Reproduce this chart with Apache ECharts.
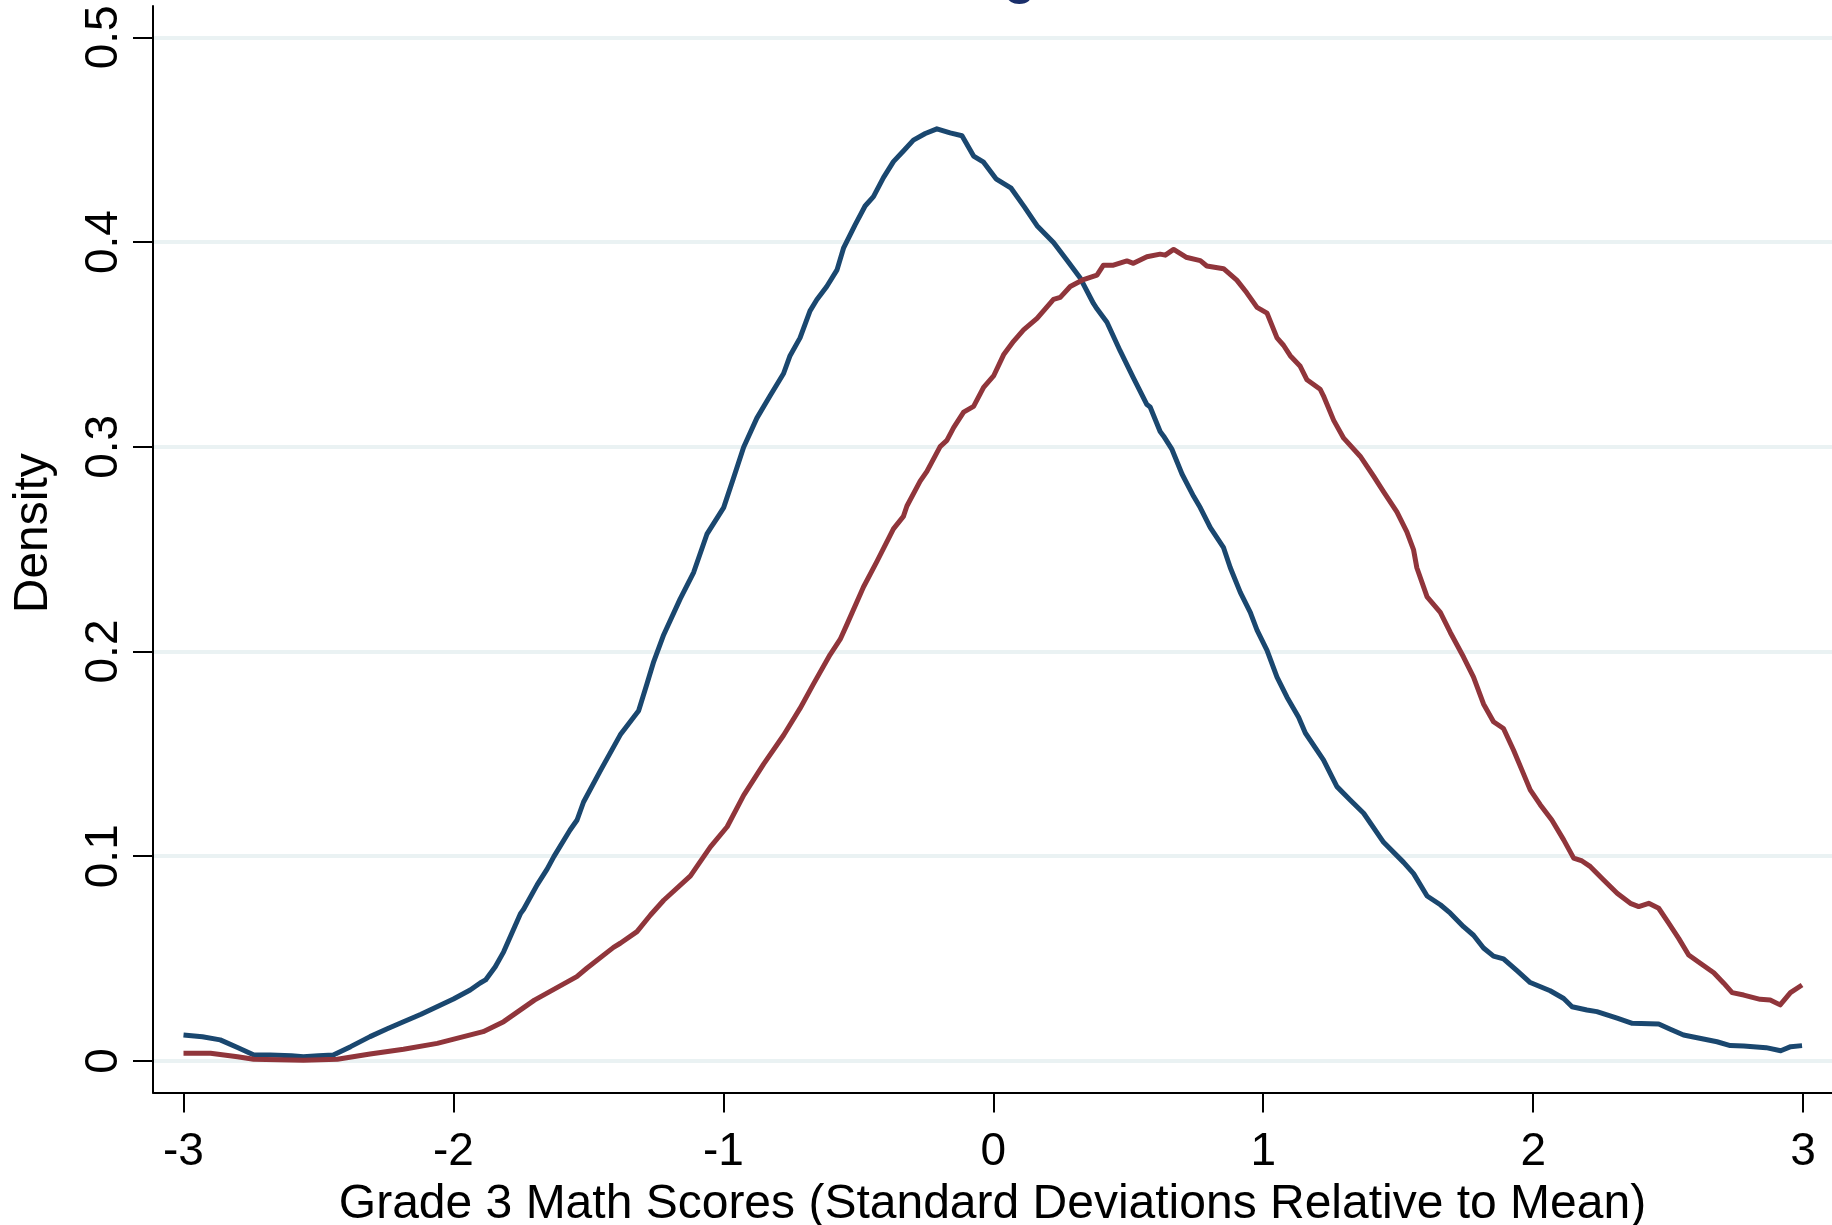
<!DOCTYPE html>
<html>
<head>
<meta charset="utf-8">
<script src="https://cdn.jsdelivr.net/npm/echarts@6/dist/echarts.min.js"></script>
<style>
html,body{margin:0;padding:0;background:#fff;}
#chart{width:1832px;height:1225px;}
</style>
</head>
<body>
<div id="chart"></div>
<script>
// Tick values
const xTicks = [-3, -2, -1, 0, 1, 2, 3];
const yTicks = [0, 0.1, 0.2, 0.3, 0.4, 0.5];

// Blue curve (first group)
const blueX = [-3.00,-2.93,-2.864,-2.80,-2.739,-2.679,-2.60,-2.556,-2.50,-2.445,-2.381,-2.309,-2.245,-2.185,-2.12,-2.061,-2.00,-1.938,-1.901,-1.881,-1.845,-1.814,-1.751,-1.740,-1.690,-1.653,-1.628,-1.568,-1.542,-1.518,-1.456,-1.382,-1.314,-1.283,-1.258,-1.221,-1.160,-1.110,-1.061,-0.999,-0.963,-0.925,-0.876,-0.827,-0.777,-0.753,-0.716,-0.679,-0.654,-0.617,-0.579,-0.555,-0.512,-0.475,-0.444,-0.407,-0.370,-0.333,-0.296,-0.252,-0.209,-0.160,-0.116,-0.073,-0.036,0.010,0.066,0.115,0.162,0.223,0.273,0.322,0.371,0.384,0.421,0.470,0.519,0.569,0.581,0.618,0.631,0.662,0.699,0.742,0.767,0.804,0.853,0.878,0.915,0.952,0.977,1.014,1.051,1.088,1.131,1.156,1.223,1.273,1.322,1.372,1.446,1.520,1.557,1.607,1.656,1.693,1.742,1.779,1.816,1.853,1.890,1.940,1.989,2.063,2.113,2.144,2.199,2.236,2.311,2.367,2.465,2.508,2.557,2.681,2.730,2.780,2.863,2.917,2.954,2.996];
const blueY = [0.0127,0.0118,0.0103,0.0066,0.0029,0.0029,0.0026,0.0021,0.0026,0.0029,0.0070,0.0119,0.0157,0.0192,0.0228,0.0265,0.0303,0.0347,0.0381,0.0396,0.0460,0.0533,0.0721,0.0741,0.0860,0.0937,0.0998,0.1128,0.1177,0.1265,0.1417,0.1593,0.1711,0.1842,0.1951,0.2082,0.2257,0.2387,0.2573,0.2703,0.2845,0.2998,0.3140,0.3249,0.3358,0.3445,0.3532,0.3664,0.3718,0.3783,0.3864,0.3970,0.4084,0.4176,0.4222,0.4315,0.4393,0.4445,0.4498,0.4530,0.4553,0.4533,0.4519,0.4420,0.4390,0.4309,0.4263,0.4172,0.4080,0.3998,0.3911,0.3824,0.3700,0.3674,0.3608,0.3468,0.3337,0.3206,0.3194,0.3075,0.3052,0.2987,0.2867,0.2758,0.2702,0.2605,0.2507,0.2409,0.2289,0.2191,0.2104,0.2006,0.1875,0.1777,0.1679,0.1602,0.1471,0.1340,0.1275,0.1210,0.1068,0.0970,0.0915,0.0806,0.0763,0.0722,0.0656,0.0614,0.0552,0.0512,0.0499,0.0441,0.0383,0.0343,0.0305,0.0265,0.0249,0.0241,0.0209,0.0184,0.0181,0.0155,0.0127,0.0094,0.0075,0.0073,0.0065,0.0050,0.0070,0.0075];

// Red curve (second group)
const redX = [-3.00,-2.90,-2.80,-2.74,-2.556,-2.43,-2.309,-2.185,-2.06,-1.89,-1.814,-1.70,-1.543,-1.506,-1.407,-1.382,-1.320,-1.27,-1.221,-1.122,-1.048,-0.986,-0.925,-0.851,-0.777,-0.716,-0.666,-0.605,-0.567,-0.543,-0.481,-0.431,-0.370,-0.333,-0.320,-0.271,-0.246,-0.197,-0.172,-0.147,-0.110,-0.073,-0.036,0.001,0.038,0.075,0.112,0.162,0.223,0.248,0.285,0.334,0.384,0.408,0.445,0.495,0.519,0.569,0.618,0.637,0.668,0.714,0.767,0.791,0.853,0.902,0.939,0.977,1.014,1.051,1.075,1.100,1.137,1.162,1.211,1.223,1.261,1.298,1.359,1.409,1.446,1.495,1.532,1.557,1.569,1.607,1.656,1.693,1.742,1.779,1.816,1.853,1.890,1.927,1.958,1.989,2.026,2.069,2.113,2.150,2.181,2.212,2.261,2.311,2.360,2.391,2.428,2.465,2.502,2.539,2.576,2.619,2.669,2.706,2.737,2.780,2.841,2.878,2.915,2.953,2.996];
const redY = [0.0038,0.0038,0.0021,0.0008,0.0003,0.0008,0.0034,0.0057,0.0086,0.0143,0.0192,0.0297,0.0412,0.0453,0.0555,0.0575,0.0632,0.0713,0.0785,0.0904,0.1046,0.1144,0.1297,0.1450,0.1591,0.1722,0.1842,0.1984,0.2060,0.2130,0.2315,0.2440,0.2599,0.2660,0.2711,0.2832,0.2880,0.3001,0.3031,0.3094,0.3169,0.3197,0.3290,0.3346,0.3449,0.3515,0.3571,0.3627,0.3720,0.3730,0.3783,0.3817,0.3839,0.3887,0.3887,0.3908,0.3896,0.3928,0.3941,0.3936,0.3964,0.3926,0.3909,0.3883,0.3870,0.3814,0.3752,0.3681,0.3653,0.3532,0.3496,0.3445,0.3393,0.3327,0.3281,0.3249,0.3129,0.3042,0.2954,0.2856,0.2780,0.2682,0.2584,0.2496,0.2409,0.2267,0.2191,0.2093,0.1973,0.1875,0.1744,0.1657,0.1624,0.1519,0.1422,0.1324,0.1252,0.1177,0.1080,0.0991,0.0977,0.0949,0.0884,0.0819,0.0770,0.0754,0.0770,0.0746,0.0673,0.0599,0.0518,0.0477,0.0431,0.0380,0.0334,0.0322,0.0301,0.0298,0.0274,0.0334,0.0371];

const FONT = '"Liberation Sans", Arial, Helvetica, sans-serif';
const chart = echarts.init(document.getElementById('chart'), null, {renderer: 'canvas'});

chart.setOption({
  animation: false,
  backgroundColor: '#ffffff',
  grid: {left: 153, right: 0, top: 6, bottom: 132.5, containLabel: false, outerBoundsMode: 'none'},
  graphic: [{
    type: 'text',
    left: 1004,
    top: -47,
    style: {text: 'g', font: 'bold 52px ' + FONT, fill: '#1a2f6b'}
  }],
  xAxis: {
    type: 'value',
    min: -3.113,
    max: 3.107,
    name: 'Grade 3 Math Scores (Standard Deviations Relative to Mean)',
    nameLocation: 'middle',
    nameGap: 81,
    nameTextStyle: {color: '#000', fontSize: 48, fontFamily: FONT},
    axisLine: {show: true, onZero: false, lineStyle: {color: '#000', width: 2}},
    axisTick: {show: true, length: 20, customValues: xTicks, lineStyle: {color: '#000', width: 2}},
    axisLabel: {show: true, customValues: xTicks, margin: 37, color: '#000', fontSize: 46, fontFamily: FONT,
      formatter: v => String(v)},
    splitLine: {show: false}
  },
  yAxis: {
    type: 'value',
    min: -0.0154,
    max: 0.5153,
    name: 'Density',
    nameLocation: 'middle',
    nameGap: 95,
    nameRotate: 90,
    nameTextStyle: {color: '#000', fontSize: 48, fontFamily: FONT, padding: [0, 0, 0, 32]},
    axisLine: {show: true, onZero: false, lineStyle: {color: '#000', width: 2}},
    axisTick: {show: true, length: 20, customValues: yTicks, lineStyle: {color: '#000', width: 2}},
    axisLabel: {show: true, customValues: yTicks, rotate: 90, margin: 26, color: '#000', fontSize: 46, fontFamily: FONT,
      formatter: v => String(Math.round(v * 10) / 10)},
    splitLine: {show: true, lineStyle: {color: '#eaf2f3', width: 4}}
  },
  series: [
    {
      type: 'line', name: 'blue', showSymbol: false, symbol: 'none', smooth: false,
      lineStyle: {color: '#1a476f', width: 5, join: 'round'}, itemStyle: {color: '#1a476f'},
      data: blueX.map((x, i) => [x, blueY[i]]), z: 3
    },
    {
      type: 'line', name: 'red', showSymbol: false, symbol: 'none', smooth: false,
      lineStyle: {color: '#90353b', width: 5, join: 'round'}, itemStyle: {color: '#90353b'},
      data: redX.map((x, i) => [x, redY[i]]), z: 4
    }
  ]
});
</script>
</body>
</html>
